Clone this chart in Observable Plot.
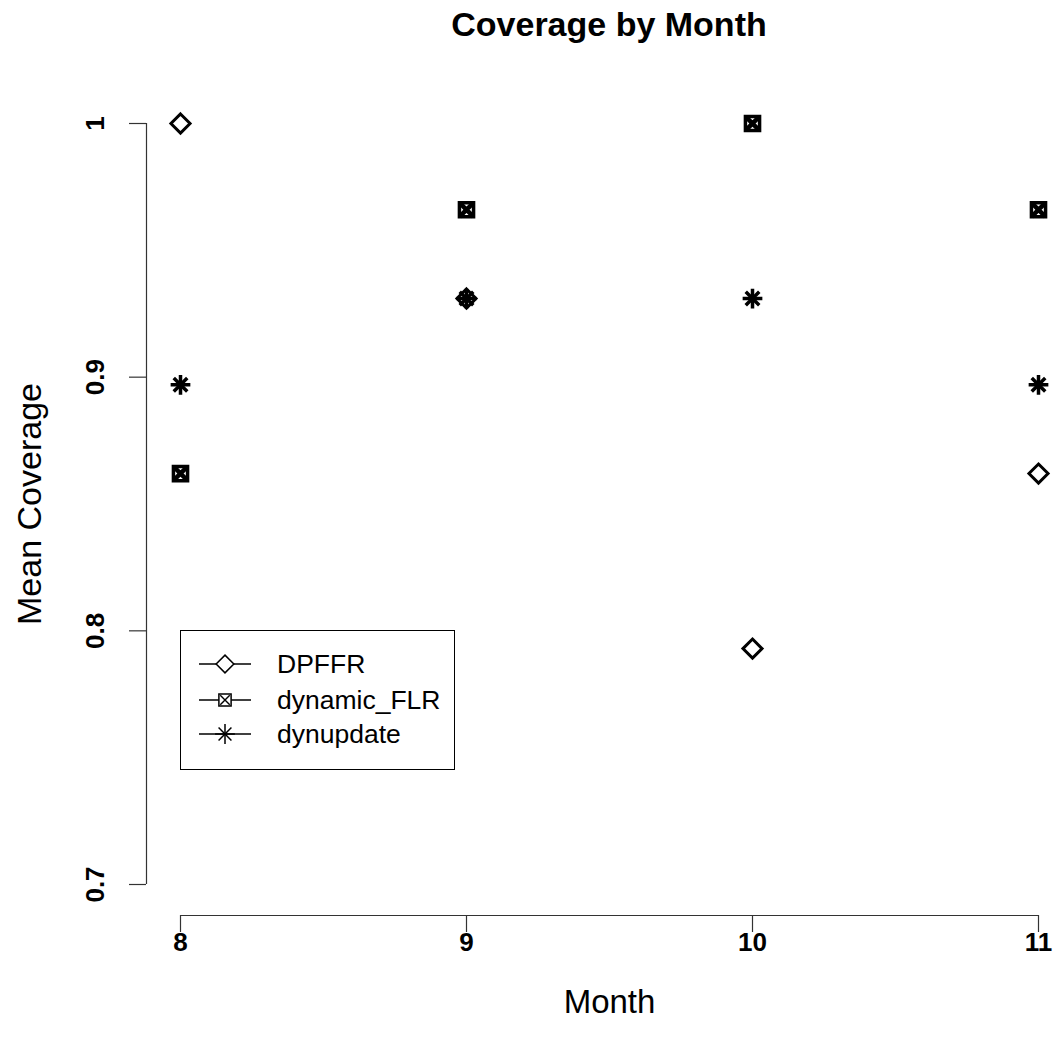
<!DOCTYPE html>
<html><head><meta charset="utf-8">
<script src="https://cdn.jsdelivr.net/npm/d3@7"></script>
<script src="https://cdn.jsdelivr.net/npm/@observablehq/plot@0.6"></script>
<style>
body{margin:0;background:#fff;font-family:"Liberation Sans",Arial,sans-serif}
#wrap{position:relative;width:1055px;height:1053px}
#title{position:absolute;left:180px;width:858px;top:4px;text-align:center;font-weight:bold;font-size:34px;line-height:40px}
#legend{position:absolute;left:180px;top:630px;width:273px;height:138px;border:1.5px solid #000;background:#fff}
#legend svg{position:absolute;left:0;top:0}
#legend .lab{position:absolute;left:96px;font-size:26.5px;line-height:32px}
</style></head><body><div id="wrap"><div id="title"></div></div>
<script>
const months = [8, 9, 10, 11];
const seriesNames = ["DPFFR", "dynamic_FLR", "dynupdate"];
const dpffr = [1.000, 0.931, 0.793, 0.862];
const dynamicFLR = [0.862, 0.966, 1.000, 0.966];
const dynupdate = [0.897, 0.931, 0.931, 0.897];
const yTicks = [0.7, 0.8, 0.9, 1];
const xTicks = [8, 9, 10, 11];
const titleText = "Coverage by Month";
const xLabel = "Month";
const yLabel = "Mean Coverage";

const rows = (vals, s) => months.map((m, i) => ({month: m, value: vals[i], series: s}));
const dData = rows(dpffr, seriesNames[0]);
const fData = rows(dynamicFLR, seriesNames[1]);
const uData = rows(dynupdate, seriesNames[2]);

const axisCol = "#333";
const chart = Plot.plot({
  width: 1055, height: 1053,
  marginLeft: 180, marginRight: 17, marginTop: 123, marginBottom: 169,
  style: {fontFamily: '"Liberation Sans", Arial, sans-serif', background: "transparent"},
  x: {domain: [xTicks[0], xTicks[xTicks.length - 1]], axis: null},
  y: {domain: [yTicks[0], yTicks[yTicks.length - 1]], axis: null},
  marks: [
    Plot.ruleX([{x: xTicks[0], y1: yTicks[0], y2: yTicks[yTicks.length - 1]}], {x: "x", y1: "y1", y2: "y2", dx: -34, stroke: axisCol, strokeWidth: 1.2}),
    Plot.axisY({ticks: yTicks, tickSize: 17, dx: -34, tickFormat: () => "", label: null, stroke: axisCol, strokeWidth: 1.2}),
    Plot.text(yTicks, {y: d => d, text: d => String(d), frameAnchor: "left", dx: -85, rotate: -90, fontSize: 26, fontWeight: "bold", textAnchor: "middle", lineAnchor: "middle", fill: "#000"}),
    Plot.ruleY([{y: yTicks[0], x1: xTicks[0], x2: xTicks[xTicks.length - 1]}], {y: "y", x1: "x1", x2: "x2", dy: 31, stroke: axisCol, strokeWidth: 1.2}),
    Plot.axisX({ticks: xTicks, tickSize: 17, dy: 31, tickFormat: () => "", label: null, stroke: axisCol, strokeWidth: 1.2}),
    Plot.text(xTicks, {x: d => d, text: d => String(d), frameAnchor: "bottom", dy: 58, fontSize: 26, fontWeight: "bold", lineAnchor: "middle", fill: "#000"}),
    Plot.text([xLabel], {frameAnchor: "bottom", dy: 118, fontSize: 33, lineAnchor: "middle", fill: "#000"}),
    Plot.text([yLabel], {frameAnchor: "left", dx: -150, rotate: -90, fontSize: 34, lineAnchor: "middle", textAnchor: "middle", fill: "#000"}),
    // series (drawn in order like R)
    Plot.dot(dData, {x: "month", y: "value", symbol: "diamond2", r: 8.6, stroke: "#000", strokeWidth: 3, fill: "none"}),
    Plot.dot(fData, {x: "month", y: "value", symbol: "square2", r: 9, stroke: "#000", strokeWidth: 3.5, fill: "none"}),
    Plot.dot(fData, {x: "month", y: "value", symbol: "times", r: 6.3, stroke: "#000", strokeWidth: 4.5}),
    Plot.dot(uData, {x: "month", y: "value", symbol: "plus", r: 6.4, stroke: "#000", strokeWidth: 3.5}),
    Plot.dot(uData, {x: "month", y: "value", symbol: "times", r: 6.2, stroke: "#000", strokeWidth: 3.5})
  ]
});
const wrap = document.getElementById("wrap");
wrap.insertBefore(chart, wrap.firstChild);
document.getElementById("title").textContent = titleText;

// legend
const leg = document.createElement("div");
leg.id = "legend";
wrap.appendChild(leg);
const rowY = [33, 69, 103];
const svg = d3.select(leg).append("svg").attr("width", 273).attr("height", 138);
seriesNames.forEach((name, i) => {
  const g = svg.append("g").attr("transform", `translate(44,${rowY[i]})`);
  g.append("line").attr("x1", -26).attr("x2", 26).attr("stroke", "#000").attr("stroke-width", 1.5);
  if (i === 0) {
    g.append("path").attr("d", d3.symbol(d3.symbolDiamond2, 200)()).attr("fill", "#fff").attr("stroke", "#000").attr("stroke-width", 1.5);
  } else if (i === 1) {
    g.append("path").attr("d", d3.symbol(d3.symbolSquare2, 190)()).attr("fill", "#fff").attr("stroke", "#000").attr("stroke-width", 1.5);
    g.append("path").attr("d", d3.symbol(d3.symbolTimes, 60)()).attr("fill", "none").attr("stroke", "#000").attr("stroke-width", 1.4);
  } else {
    g.append("path").attr("d", d3.symbol(d3.symbolPlus, 130)()).attr("fill", "none").attr("stroke", "#000").attr("stroke-width", 1.5);
    g.append("path").attr("d", d3.symbol(d3.symbolTimes, 110)()).attr("fill", "none").attr("stroke", "#000").attr("stroke-width", 1.5);
  }
  const lab = document.createElement("div");
  lab.className = "lab";
  lab.style.top = (rowY[i] - 16) + "px";
  lab.textContent = name;
  leg.appendChild(lab);
});
</script>
</body></html>
